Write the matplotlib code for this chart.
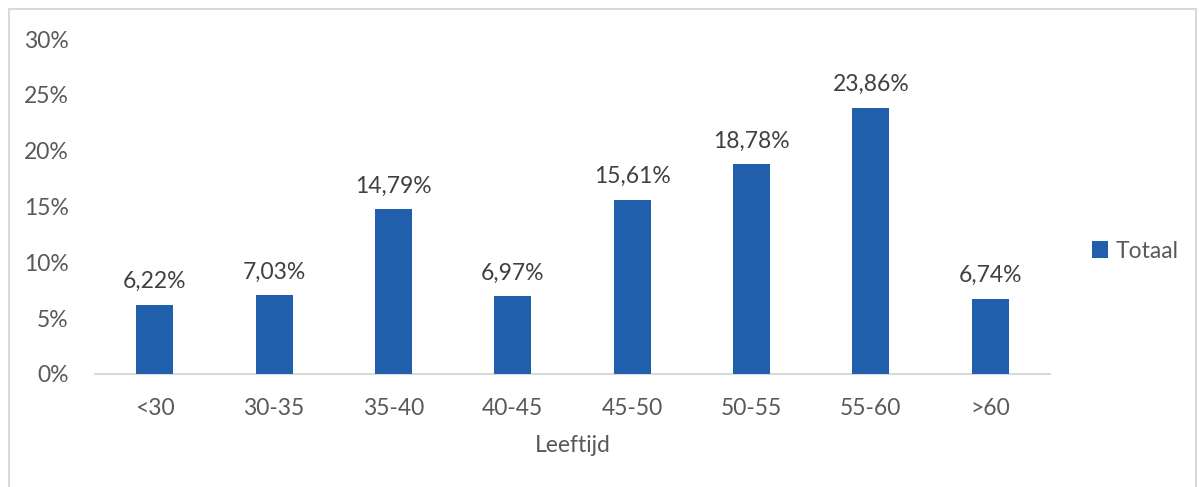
import matplotlib
matplotlib.use("Agg")
import matplotlib.pyplot as plt
from matplotlib.patches import Rectangle

categories = ["<30", "30-35", "35-40", "40-45", "45-50", "50-55", "55-60", ">60"]
values = [6.22, 7.03, 14.79, 6.97, 15.61, 18.78, 23.86, 6.74]
yticks = [0, 5, 10, 15, 20, 25, 30]
series_name = "Totaal"
xlabel = "Leeftijd"

W, H = 1202, 487
fig = plt.figure(figsize=(W / 100, H / 100), dpi=100)
plt.rcParams['font.family'] = ['Lato', 'DejaVu Sans']
txt = "#595959"
bar_color = "#1F5FAB"

ax = fig.add_axes([95 / W, 1 - 374 / H, (1050 - 95) / W, (374 - 39) / H])
x = range(len(categories))
bars = ax.bar(x, values, width=0.31, color=bar_color, label=series_name, zorder=3)
ax.set_xlim(-0.5, len(categories) - 0.5)
ax.set_ylim(0, 30)
ax.set_yticks(yticks)
ax.set_yticklabels([f"{t}%" for t in yticks], color=txt, fontsize=16.5)
ax.set_xticks(list(x))
ax.set_xticklabels(categories, color=txt, fontsize=16.5)
ax.tick_params(axis='both', length=0)
ax.tick_params(axis='y', pad=19)
ax.tick_params(axis='x', pad=17)
for s in ["top", "right", "left"]:
    ax.spines[s].set_visible(False)
ax.spines["bottom"].set_color("#D9D9D9")
ax.spines["bottom"].set_linewidth(1.5)
ax.set_xlabel(xlabel, color=txt, fontsize=16.5, labelpad=12)

for xi, v in zip(x, values):
    ax.annotate(f"{v:.2f}%".replace(".", ","), (xi, v), xytext=(0, 9),
                textcoords="offset points", ha="center", va="bottom",
                color="#404040", fontsize=16.5)

leg = fig.legend(handles=[bars], labels=[series_name], loc="center left",
                 bbox_to_anchor=(1071 / W, 1 - 251 / H), frameon=False,
                 fontsize=16.5, handlelength=0.7, handleheight=0.7, handletextpad=0.35)
for t in leg.get_texts():
    t.set_color(txt)

fig.patches.append(Rectangle((9 / W, -0.01), (1196 - 9) / W, 1 - 9 / H + 0.01,
                             transform=fig.transFigure, fill=False,
                             edgecolor="#D9D9D9", linewidth=1.5))
fig.savefig("out.png", dpi=100)
